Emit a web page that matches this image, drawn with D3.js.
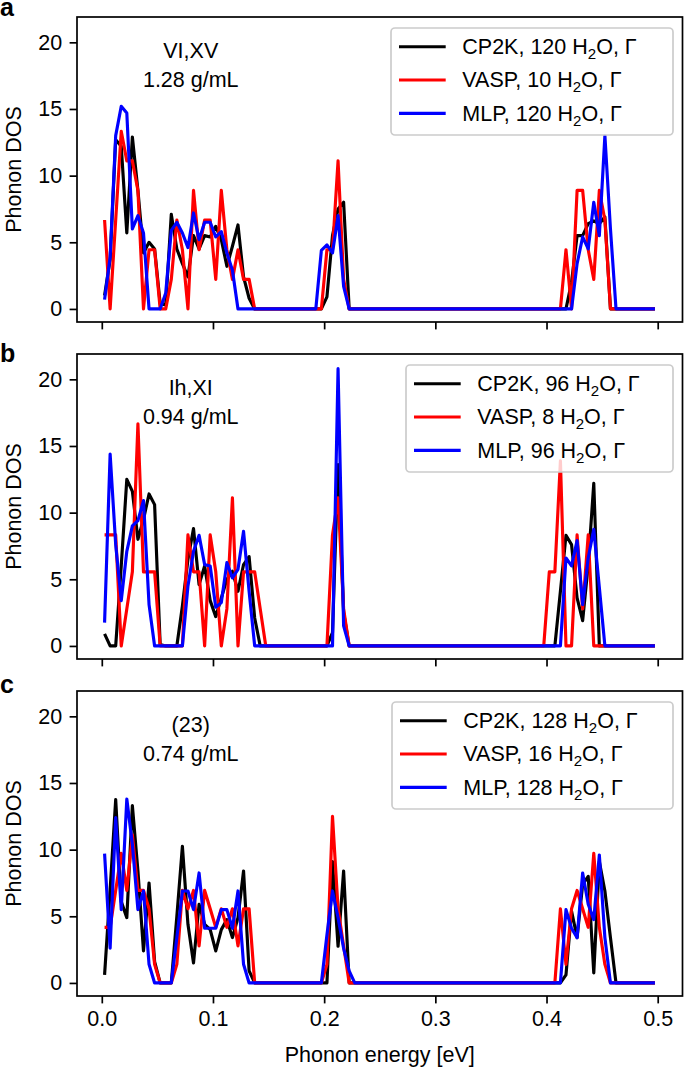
<!DOCTYPE html>
<html><head><meta charset="utf-8">
<script src="https://cdn.jsdelivr.net/npm/d3@7"></script>
<style>
body{margin:0;background:#fff;}
svg{display:block;font-family:"Liberation Sans",Arial,Helvetica,sans-serif;}
</style></head><body>
<svg id="chart" width="685" height="1069"></svg>
<script>
// bin centres (eV)
const energies = [
0.0025,0.0075,0.0125,0.0175,0.0225,0.0275,0.0325,0.0375,0.0425,0.0475,
0.0525,0.0575,0.0625,0.0675,0.0725,0.0775,0.0825,0.0875,0.0925,0.0975,
0.1025,0.1075,0.1125,0.1175,0.1225,0.1275,0.1325,0.1375,0.1425,0.1475,
0.1525,0.1575,0.1625,0.1675,0.1725,0.1775,0.1825,0.1875,0.1925,0.1975,
0.2025,0.2075,0.2125,0.2175,0.2225,0.2275,0.2325,0.2375,0.2425,0.2475,
0.2525,0.2575,0.2625,0.2675,0.2725,0.2775,0.2825,0.2875,0.2925,0.2975,
0.3025,0.3075,0.3125,0.3175,0.3225,0.3275,0.3325,0.3375,0.3425,0.3475,
0.3525,0.3575,0.3625,0.3675,0.3725,0.3775,0.3825,0.3875,0.3925,0.3975,
0.4025,0.4075,0.4125,0.4175,0.4225,0.4275,0.4325,0.4375,0.4425,0.4475,
0.4525,0.4575,0.4625,0.4675,0.4725,0.4775,0.4825,0.4875,0.4925,0.4975];

// Panel a (VI,XV)
const cp2kA = [
1.0,3.7,12.7,12.2,5.7,12.9,8.9,4.2,5.0,4.5,
0.4,0.3,7.1,4.5,3.4,2.4,5.5,4.5,5.5,5.4,
6.2,5.2,3.2,4.7,6.3,2.4,0.8,0,0,0,
0,0,0,0,0,0,0,0,0,0,
0.9,5.5,7.5,8.0,0,0,0,0,0,0,
0,0,0,0,0,0,0,0,0,0,
0,0,0,0,0,0,0,0,0,0,
0,0,0,0,0,0,0,0,0,0,
0,0,0,0,2.0,5.5,5.5,6.4,6.6,6.4,
6.9,0,0,0,0,0,0,0,0,0];
const vaspA = [
6.67,0,6.67,13.33,11.11,11.11,8.89,0,4.44,4.44,
0,0,2.22,6.67,4.44,0,8.89,4.44,6.67,6.67,
2.22,8.89,4.44,2.22,4.44,2.22,2.22,0,0,0,
0,0,0,0,0,0,0,0,0,0,
4.44,4.44,11.11,2.22,0,0,0,0,0,0,
0,0,0,0,0,0,0,0,0,0,
0,0,0,0,0,0,0,0,0,0,
0,0,0,0,0,0,0,0,0,0,
0,0,0,4.44,0,8.89,8.89,4.44,2.22,8.89,
6.67,0,0,0,0,0,0,0,0,0];
const mlpA = [
0.7,3.9,13.0,15.2,14.7,6.0,7.0,5.7,0,0,
0,1.2,5.9,6.5,5.7,4.6,7.2,5.2,6.5,6.5,
5.4,5.8,4.2,2.9,0,0,0,0,0,0,
0,0,0,0,0,0,0,0,0,4.4,
4.8,4.2,7.0,1.7,0,0,0,0,0,0,
0,0,0,0,0,0,0,0,0,0,
0,0,0,0,0,0,0,0,0,0,
0,0,0,0,0,0,0,0,0,0,
0,0,0,0,0,3.4,5.4,4.5,8.0,5.5,
13.0,6.0,0,0,0,0,0,0,0,0];

// Panel b (Ih,XI)
const cp2kB = [
0.9,0,0,6.0,12.5,11.6,8.0,9.5,11.4,10.6,
0.1,0,0,0,3.0,6.5,8.8,4.6,6.0,3.4,
2.2,3.6,5.0,5.6,4.1,6.1,6.7,2.1,0,0,
0,0,0,0,0,0,0,0,0,0,
0,1.0,13.6,2.5,0,0,0,0,0,0,
0,0,0,0,0,0,0,0,0,0,
0,0,0,0,0,0,0,0,0,0,
0,0,0,0,0,0,0,0,0,0,
0,0,4.1,8.3,7.6,3.6,1.9,6.1,12.2,0,
0,0,0,0,0,0,0,0,0,0];
const vaspB = [
8.33,8.33,8.33,0,2.78,5.56,16.67,5.56,5.56,5.56,
0,0,0,0,0,8.33,5.56,5.56,0,8.33,
5.56,0,2.78,11.11,0,5.56,5.56,5.56,2.78,0,
0,0,0,0,0,0,0,0,0,0,
0,8.33,11.11,2.78,0,0,0,0,0,0,
0,0,0,0,0,0,0,0,0,0,
0,0,0,0,0,0,0,0,0,0,
0,0,0,0,0,0,0,0,0,0,
5.56,5.56,13.89,0,0,8.33,2.78,8.33,0,0,
0,0,0,0,0,0,0,0,0,0];
const mlpB = [
1.75,14.4,7.6,3.4,7.1,9.0,9.4,10.9,3.1,0,
0,0,0,0,0,4.5,7.1,8.3,6.1,6.0,
2.9,3.25,6.25,5.1,5.75,8.6,4.1,0,0,0,
0,0,0,0,0,0,0,0,0,0,
0,0,20.8,1.5,0,0,0,0,0,0,
0,0,0,0,0,0,0,0,0,0,
0,0,0,0,0,0,0,0,0,0,
0,0,0,0,0,0,0,0,0,0,
0,0,0,6.6,6.0,7.9,3.1,6.6,8.75,4.4,
0,0,0,0,0,0,0,0,0,0];

// Panel c (23)
const cp2kC = [
0.6,7.0,13.75,6.1,4.9,13.3,8.4,2.4,7.5,1.6,
0,0,0,5.0,10.25,4.4,1.5,5.9,4.4,4.0,
2.4,4.0,4.75,3.4,4.9,8.4,0.9,0,0,0,
0,0,0,0,0,0,0,0,0,0,
0,9.1,2.75,8.4,0,0,0,0,0,0,
0,0,0,0,0,0,0,0,0,0,
0,0,0,0,0,0,0,0,0,0,
0,0,0,0,0,0,0,0,0,0,
0,0,0,0.6,5.4,3.4,7.4,8.0,0.75,9.1,
6.9,3.4,0,0,0,0,0,0,0,0];
const vaspC = [
4.17,4.17,6.94,9.72,6.94,11.11,6.94,6.94,5.56,1.39,
0,0,0,1.39,6.94,5.56,6.94,2.78,6.94,5.56,
4.17,5.56,4.17,5.56,2.78,5.56,5.56,0,0,0,
0,0,0,0,0,0,0,0,0,0,
1.39,12.5,5.56,2.78,0,0,0,0,0,0,
0,0,0,0,0,0,0,0,0,0,
0,0,0,0,0,0,0,0,0,0,
0,0,0,0,0,0,0,0,0,0,
0,0,5.56,1.39,5.56,6.94,5.56,4.17,9.72,4.17,
1.39,0,0,0,0,0,0,0,0,0];
const mlpC = [
9.7,2.6,12.4,5.5,13.8,10.4,5.5,6.9,1.4,0,
0,0,0,3.4,6.9,6.9,5.5,8.25,4.1,4.1,
4.1,5.5,5.5,4.1,6.9,1.4,0,0,0,0,
0,0,0,0,0,0,0,0,0,0,
3.6,6.9,4.9,2.6,0.9,0,0,0,0,0,
0,0,0,0,0,0,0,0,0,0,
0,0,0,0,0,0,0,0,0,0,
0,0,0,0,0,0,0,0,0,0,
0,0,0,5.5,4.1,3.4,8.25,5.9,4.75,9.6,
3.4,0,0,0,0,0,0,0,0,0];

const seriesNames = ["CP2K","VASP","MLP"];
const seriesColors = ["#000000","#ff0000","#0000ff"];
const moleculeCounts = [[120,10,120],[96,8,96],[128,16,128]];
const panelLetters = ["a","b","c"];
const phaseLabels = ["VI,XV","Ih,XI","(23)"];
const densityLabels = ["1.28 g/mL","0.94 g/mL","0.74 g/mL"];
const xTicks = [0,0.1,0.2,0.3,0.4,0.5];
const yTicks = [0,5,10,15,20];
const xLabel = "Phonon energy [eV]";
const yLabel = "Phonon DOS";

const panelSeries = [[cp2kA,vaspA,mlpA],[cp2kB,vaspB,mlpB],[cp2kC,vaspC,mlpC]];

// layout
const FS = 21.5;
const L = 77, R = 682.5, H = 305;
const tops = [17, 354, 691];
const letterBaselines = [16, 362, 693];
const legendLefts = [391, 406, 392];
const legendRight = 673;

const svg = d3.select("#chart");
const x = d3.scaleLinear().domain([-0.0223, 0.5223]).range([L, R]);

panelSeries.forEach((series, p) => {
  const top = tops[p];
  const y = d3.scaleLinear().domain([-0.98, 21.9]).range([top + H, top]);
  const g = svg.append("g");

  g.append("clipPath").attr("id", "clip" + p)
    .append("rect").attr("x", L).attr("y", top).attr("width", R - L).attr("height", H);

  // axes
  const ya = g.append("g").attr("transform", `translate(${L},0)`)
    .call(d3.axisLeft(y).tickValues(yTicks).tickSize(7.4).tickPadding(7.4).tickFormat(d3.format("d")));
  const xa = g.append("g").attr("transform", `translate(0,${top + H})`)
    .call(d3.axisBottom(x).tickValues(xTicks).tickSize(7.4).tickPadding(7.4)
      .tickFormat(p === 2 ? d3.format(".1f") : () => ""));
  [ya, xa].forEach(a => {
    a.select(".domain").remove();
    a.attr("font-size", FS).attr("font-family", null);
    a.selectAll(".tick line").attr("stroke", "#000").attr("stroke-width", 1.7);
    a.selectAll(".tick text").attr("fill", "#000");
  });

  // lines
  const line = d3.line().x((d, i) => x(energies[i])).y(d => y(d));
  const lg = g.append("g").attr("clip-path", `url(#clip${p})`);
  series.forEach((s, k) => {
    lg.append("path").datum(s).attr("d", line)
      .attr("fill", "none").attr("stroke", seriesColors[k])
      .attr("stroke-width", 3.15).attr("stroke-linejoin", "round");
  });

  // frame
  g.append("rect").attr("x", L).attr("y", top).attr("width", R - L).attr("height", H)
    .attr("fill", "none").attr("stroke", "#000").attr("stroke-width", 1.7);

  // annotation
  const cx = x(0.08);
  g.append("text").attr("x", cx).attr("y", top + 41).attr("text-anchor", "middle")
    .attr("font-size", FS).text(phaseLabels[p]);
  g.append("text").attr("x", cx).attr("y", top + 70).attr("text-anchor", "middle")
    .attr("font-size", FS).text(densityLabels[p]);

  // legend
  const lx = legendLefts[p], ly = top + 11;
  const leg = g.append("g");
  leg.append("rect").attr("x", lx).attr("y", ly).attr("width", legendRight - lx).attr("height", 107)
    .attr("rx", 4).attr("fill", "#fff").attr("fill-opacity", 0.8)
    .attr("stroke", "#cccccc").attr("stroke-width", 1.7);
  seriesNames.forEach((name, k) => {
    const ry = ly + 18.7 + k * 33.3;
    leg.append("line").attr("x1", lx + 8).attr("x2", lx + 54.7).attr("y1", ry).attr("y2", ry)
      .attr("stroke", seriesColors[k]).attr("stroke-width", 3.15);
    const t = leg.append("text").attr("x", lx + 71.3).attr("y", ry + 7.3).attr("font-size", FS);
    t.append("tspan").text(`${name}, ${moleculeCounts[p][k]} H`);
    t.append("tspan").attr("font-size", FS * 0.7).attr("dy", 5).text("2");
    t.append("tspan").attr("dy", -5).text("O, Γ");
  });

  // panel letter
  g.append("text").attr("x", 0).attr("y", letterBaselines[p]).attr("font-size", 25)
    .attr("font-weight", "bold").text(panelLetters[p]);

  // y label
  g.append("text").attr("transform", `translate(20.5,${top + H / 2}) rotate(-90)`)
    .attr("text-anchor", "middle").attr("font-size", FS).text(yLabel);
});

svg.append("text").attr("x", (L + R) / 2).attr("y", 1062).attr("text-anchor", "middle")
  .attr("font-size", FS).text(xLabel);
</script>
</body></html>
